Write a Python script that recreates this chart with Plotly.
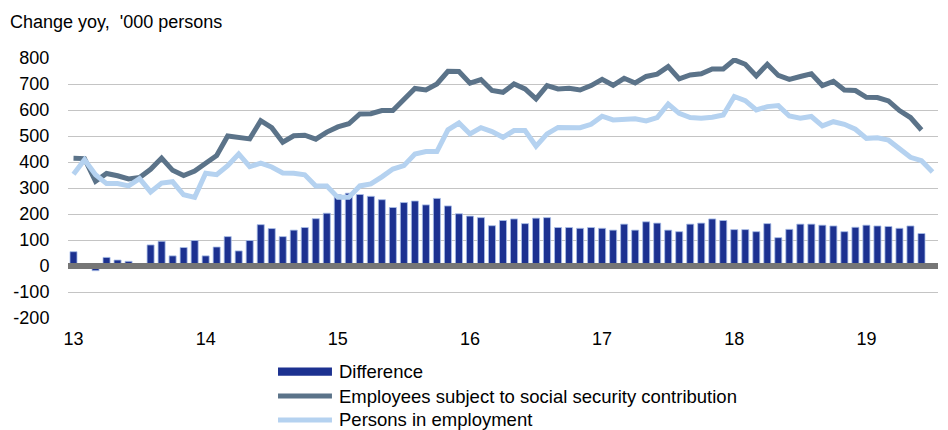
import plotly.graph_objects as go

# Months from Jan 2013 (index 0) onward
difference = [55, 0, -18, 33, 23, 18, 0, 81, 95, 39, 71, 98,
              39, 73, 113, 58, 98, 159, 144, 113, 138, 148, 182, 203,
              274, 280, 275, 268, 255, 225, 244, 250, 235, 260, 231, 201,
              192, 186, 155, 175, 181, 163, 184, 186, 148, 148, 145, 148,
              145, 138, 161, 138, 170, 165, 138, 132, 161, 165, 181, 175,
              140, 140, 132, 163, 109, 141, 161, 161, 157, 154, 132, 149,
              157, 154, 152, 145, 154, 125]

employees_ssc = [414, 413, 326, 356, 347, 335, 340, 372, 415, 368, 348, 365,
                 395, 425, 500, 494, 489, 559, 532, 476, 501, 503, 488, 515,
                 535, 547, 585, 586, 598, 598, 638, 683, 677, 700, 749, 748,
                 703, 717, 675, 668, 700, 681, 643, 694, 681, 684, 677, 694,
                 718, 695, 722, 704, 729, 738, 767, 720, 735, 739, 758, 758,
                 793, 776, 731, 776, 733, 718, 729, 739, 694, 710, 677, 675,
                 649, 648, 635, 598, 571, 523]

persons_employed = [353, 409, 351, 317, 317, 308, 336, 285, 319, 324, 274, 264,
                    357, 351, 386, 431, 382, 396, 381, 358, 357, 351, 308, 308,
                    264, 264, 308, 316, 343, 373, 386, 431, 440, 440, 524, 550,
                    508, 532, 517, 495, 521, 521, 461, 508, 533, 532, 532, 545,
                    576, 562, 562, 566, 558, 571, 623, 587, 571, 568, 572, 581,
                    652, 636, 600, 613, 617, 577, 568, 575, 539, 555, 545, 526,
                    491, 493, 484, 452, 418, 405, 362]

year_tick_pos = [0, 12, 24, 36, 48, 60, 72]
year_tick_labels = ["13", "14", "15", "16", "17", "18", "19"]
y_ticks = [-200, -100, 0, 100, 200, 300, 400, 500, 600, 700, 800]
y_tick_labels = ["-200", "-100", "0", "100", "200", "300", "400", "500", "600", "700", "800"]

legend_names = ["Difference",
                "Employees subject to social security contribution",
                "Persons in employment"]

BAR_C = "#1c3190"
DARK_C = "#5b7389"
LIGHT_C = "#b5d2f0"
FONT = "Liberation Sans, Arial, sans-serif"

# page body has an 8px default margin -> figure is 940x422 placed at (8, 8)
W, H = 940, 422

fig = go.Figure()
fig.add_trace(go.Bar(
    x=list(range(len(difference))), y=difference, name=legend_names[0],
    marker=dict(color=BAR_C, line=dict(color="#aabfe8", width=0.8)),
    showlegend=False))
fig.add_trace(go.Scatter(
    x=list(range(len(employees_ssc))), y=employees_ssc, name=legend_names[1],
    mode="lines", line=dict(color=DARK_C, width=5), showlegend=False))
fig.add_trace(go.Scatter(
    x=list(range(len(persons_employed))), y=persons_employed, name=legend_names[2],
    mode="lines", line=dict(color=LIGHT_C, width=5), showlegend=False))

# Manual legend (paper coordinates)
x0, x1, xt = 0.2414, 0.3034, 0.3092
rows = [-0.2065, -0.300, -0.3923]
shapes = [
    # zero line drawn above the bars
    dict(type="line", xref="paper", yref="y", x0=0, x1=1, y0=0, y1=0,
         line=dict(color="#767676", width=6), layer="above"),
    dict(type="rect", xref="paper", yref="paper", x0=x0, x1=x1,
         y0=rows[0] - 0.016, y1=rows[0] + 0.016, fillcolor=BAR_C, line=dict(width=0)),
    dict(type="line", xref="paper", yref="paper", x0=x0, x1=x1,
         y0=rows[1], y1=rows[1], line=dict(color=DARK_C, width=5)),
    dict(type="line", xref="paper", yref="paper", x0=x0, x1=x1,
         y0=rows[2], y1=rows[2], line=dict(color=LIGHT_C, width=5)),
]
annotations = [
    dict(text=name, xref="paper", yref="paper", x=xt, y=r, xanchor="left",
         yanchor="middle", showarrow=False, font=dict(size=18.5, color="#000", family=FONT))
    for name, r in zip(legend_names, rows)
]

fig.update_layout(
    width=W, height=H,
    margin=dict(l=60, r=10, t=50, b=112),
    paper_bgcolor="white", plot_bgcolor="white",
    font=dict(family=FONT, size=18, color="#000"),
    bargap=0.36,
    title=dict(text="Change yoy,  '000 persons", x=2 / W, xanchor="left",
               y=1 - 14 / H, yanchor="middle",
               font=dict(size=18, color="#000", family=FONT)),
    shapes=shapes, annotations=annotations,
    xaxis=dict(range=[-0.5, 78.5], tickvals=year_tick_pos, ticktext=year_tick_labels,
               showgrid=False, zeroline=False, showline=False, automargin=False,
               ticks="outside", ticklen=4, tickcolor="rgba(0,0,0,0)"),
    yaxis=dict(range=[-200, 800], tickvals=y_ticks, ticktext=y_tick_labels,
               showgrid=True, gridcolor="#c4c4c4", gridwidth=1.2,
               zeroline=False, automargin=False,
               showline=False, ticks="outside", ticklen=14,
               tickcolor="rgba(0,0,0,0)"),
)

fig.write_html("out.html")
